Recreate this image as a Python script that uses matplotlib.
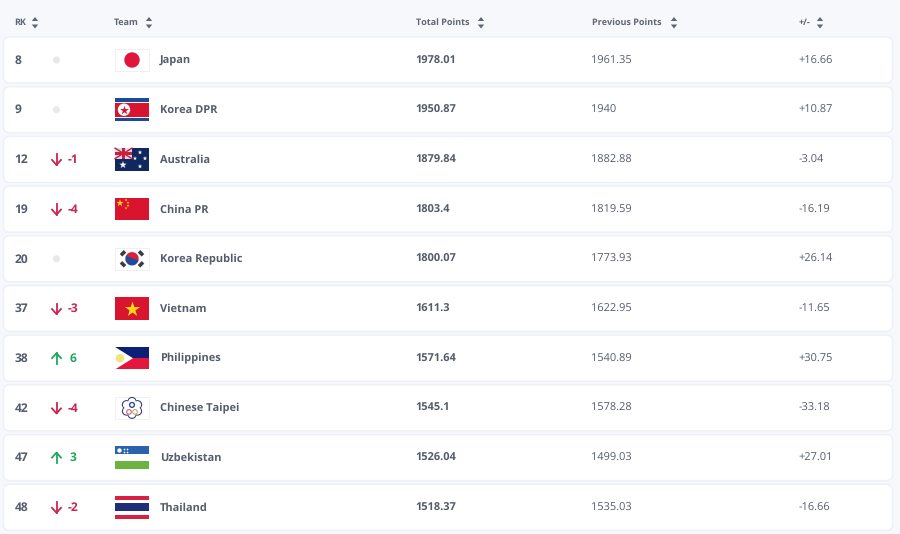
import matplotlib
matplotlib.use('Agg')
import matplotlib.pyplot as plt
import numpy as np
from matplotlib.patches import Rectangle, FancyBboxPatch, Circle, Polygon, Wedge

#Table data
ranks = [8, 9, 12, 19, 20, 37, 38, 42, 47, 48]
moves = [0, 0, -1, -4, 0, -3, 6, -4, 3, -2]
teams = ['Japan', 'Korea DPR', 'Australia', 'China PR', 'Korea Republic',
         'Vietnam', 'Philippines', 'Chinese Taipei', 'Uzbekistan', 'Thailand']
total_points = ['1978.01', '1950.87', '1879.84', '1803.4', '1800.07',
                '1611.3', '1571.64', '1545.1', '1526.04', '1518.37']
previous_points = ['1961.35', '1940', '1882.88', '1819.59', '1773.93',
                   '1622.95', '1540.89', '1578.28', '1499.03', '1535.03']
changes = ['+16.66', '+10.87', '-3.04', '-16.19', '+26.14',
           '-11.65', '+30.75', '-33.18', '+27.01', '-16.66']
headers = ['RK', 'Team', 'Total Points', 'Previous Points', '+/-']

#Colors
BG = '#f6f8fc'
TEXT = '#555c6c'
HEAD = '#5f6675'
RED = '#c9264f'
GREEN = '#1fa75d'
FLAG_RED = '#d8142e'
NAVY = '#10285f'

plt.rcParams['font.family'] = ['Open Sans', 'DejaVu Sans']
#Hinting squeezes the small bold text, the screenshot is unhinted
plt.rcParams['text.hinting'] = 'none'
plt.rcParams['text.hinting_factor'] = 1

fig = plt.figure(figsize=(9, 5.34), dpi=100, facecolor=BG)
ax = fig.add_axes([0, 0, 1, 1])
ax.set_xlim(0, 900)
ax.set_ylim(534, 0)
ax.axis('off')

#Flag box in pixels
FX, FW, FH = 115, 34, 22.5


def rect(x, y, w, h, color, z=3):
    ax.add_patch(Rectangle((x, y), w, h, facecolor=color, edgecolor='none', zorder=z))


def stripes(y, colors, shares):
    top = y - FH / 2
    for c, s in zip(colors, shares):
        rect(FX, top, FW, FH * s, c)
        top += FH * s


def blank_flag(y):
    ax.add_patch(Rectangle((FX, y - FH / 2), FW, FH, facecolor='white', edgecolor='#eceef2', lw=0.6, zorder=3))


def draw_flag(team, y):
    cx = FX + FW / 2
    if team == 'Japan':
        blank_flag(y)
        ax.add_patch(Circle((cx, y), 7, color='#e0143c', zorder=4))
    elif team == 'Korea DPR':
        stripes(y, ['#1c4a94', 'white', FLAG_RED, 'white', '#1c4a94'], [0.15, 0.03, 0.64, 0.03, 0.15])
        ax.add_patch(Circle((FX + 9, y), 5.5, color='white', zorder=4))
        ax.scatter([FX + 9], [y], marker='*', s=45, color=FLAG_RED, linewidths=0, zorder=5)
    elif team == 'Australia':
        rect(FX, y - FH / 2, FW, FH, NAVY)
        uy = y - FH / 2
        rect(FX, uy, 17, 10.5, '#d9dbe6', z=4)
        ax.plot([FX, FX + 17], [uy, uy + 10.5], color='#c8203f', lw=1, zorder=5)
        ax.plot([FX, FX + 17], [uy + 10.5, uy], color='#c8203f', lw=1, zorder=5)
        rect(FX + 7, uy, 3, 10.5, '#c8203f', z=6)
        rect(FX, uy + 4, 17, 2.5, '#c8203f', z=6)
        ax.scatter([FX + 8, FX + 20, FX + 25, FX + 30, FX + 25], [y + 5.5, y - 1, y - 7, y - 1, y + 7],
                   marker='*', s=[32, 10, 12, 12, 12], color='white', linewidths=0, zorder=5)
    elif team == 'China PR':
        rect(FX, y - FH / 2, FW, FH, FLAG_RED)
        ax.scatter([FX + 5, FX + 11, FX + 13, FX + 13, FX + 11], [y - 6, y - 9, y - 6.5, y - 3.5, y - 1],
                   marker='*', s=[30, 5, 5, 5, 5], color='#ffd21f', linewidths=0, zorder=5)
    elif team == 'Korea Republic':
        blank_flag(y)
        ax.add_patch(Wedge((cx, y), 6, 200, 20, color='#d8223c', zorder=4))
        ax.add_patch(Wedge((cx, y), 6, 20, 200, color='#1f4c9c', zorder=4))
        for dx, dy in [(-9, -5.5), (9, -5.5), (-9, 5.5), (9, 5.5)]:
            s = 1 if dx * dy < 0 else -1
            ax.plot([cx + dx - 2, cx + dx + 2], [y + dy - 2 * s, y + dy + 2 * s],
                    color='#3a3d45', lw=2.6, solid_capstyle='butt', zorder=4)
    elif team == 'Vietnam':
        rect(FX, y - FH / 2, FW, FH, FLAG_RED)
        ax.scatter([cx], [y], marker='*', s=130, color='#ffd91a', linewidths=0, zorder=5)
    elif team == 'Philippines':
        rect(FX, y - FH / 2, FW, FH / 2, '#0e1f78')
        rect(FX, y, FW, FH / 2, '#e3173e')
        ax.add_patch(Polygon([(FX, y - FH / 2), (FX + 18, y), (FX, y + FH / 2)], facecolor='white', edgecolor='none', zorder=4))
        ax.add_patch(Circle((FX + 5, y), 3.5, color='#f6e27a', zorder=5))
    elif team == 'Chinese Taipei':
        blank_flag(y)
        #six petals of the emblem
        for a in np.deg2rad(np.arange(0, 360, 60) + 30):
            ax.add_patch(Circle((cx + 6.5 * np.cos(a), y + 6.5 * np.sin(a)), 4.5, facecolor='#33386f', edgecolor='none', zorder=4))
        for a in np.deg2rad(np.arange(0, 360, 60) + 30):
            ax.add_patch(Circle((cx + 6.2 * np.cos(a), y + 6.2 * np.sin(a)), 3.7, facecolor='white', edgecolor='none', zorder=5))
        ax.add_patch(Circle((cx, y), 7, facecolor='white', edgecolor='none', zorder=5))
        ax.add_patch(Circle((cx, y - 3), 2.4, facecolor='white', edgecolor='#2f4ea0', lw=1, zorder=6))
        ax.add_patch(Circle((cx - 3, y + 4), 2.3, facecolor='none', edgecolor='#c8506a', lw=0.7, zorder=6))
        ax.add_patch(Circle((cx + 3, y + 4), 2.3, facecolor='none', edgecolor='#b9a640', lw=0.7, zorder=6))
    elif team == 'Uzbekistan':
        stripes(y, ['#2a62ae', 'white', '#6cb33f'], [0.33, 0.34, 0.33])
        ax.scatter([FX + 4], [y - 8], marker='o', s=10, color='white', linewidths=0, zorder=5)
        ax.scatter([FX + 9, FX + 12, FX + 9, FX + 12], [y - 9, y - 9, y - 6, y - 6],
                   marker='o', s=1.5, color='white', linewidths=0, zorder=5)
    elif team == 'Thailand':
        stripes(y, ['#d9213f', 'white', '#1c2f78', 'white', '#d9213f'], [0.16, 0.16, 0.36, 0.16, 0.16])


def sort_icon(x):
    ax.add_patch(Polygon([(x - 3.2, 21), (x + 3.2, 21), (x, 17)], facecolor=HEAD, edgecolor='none'))
    ax.add_patch(Polygon([(x - 3.2, 24.5), (x + 3.2, 24.5), (x, 28.5)], facecolor=HEAD, edgecolor='none'))


#Header row
header_x = [14.5, 114, 415.5, 591.5, 799]
icon_x = [35, 149, 481, 674, 820]
for label, hx, ix in zip(headers, header_x, icon_x):
    ax.text(hx, 22.5, label, fontsize=6.8, fontweight='bold', color=HEAD, va='center', ha='left')
    sort_icon(ix)

#Rows
row_top, row_h, row_step = 37, 46, 49.7
for i, team in enumerate(teams):
    top = row_top + row_step * i
    y = top + row_h / 2
    ax.add_patch(FancyBboxPatch((3.5 + 4, top + 4), 889 - 8, row_h - 8,
                                boxstyle='round,pad=4,rounding_size=6',
                                facecolor='white', edgecolor='#edf0f6', lw=1, zorder=1))
    ax.text(14.5, y + 0.5, str(ranks[i]), fontsize=8.4, fontweight='bold', color=TEXT, va='center', ha='left', zorder=3)
    m = moves[i]
    if m == 0:
        ax.add_patch(Circle((56.5, y), 2.8, color='#e6e8ec', zorder=3))
    else:
        col = GREEN if m > 0 else RED
        tip, tail = (y - 5, y + 5.5) if m > 0 else (y + 5.5, y - 5)
        ax.plot([56.5, 56.5], [tail, tip], color=col, lw=1.3, zorder=3)
        ax.plot([52, 56.5, 61], [y + (0.5 if m < 0 else 0), tip, y + (0.5 if m < 0 else 0)], color=col, lw=1.3, zorder=3)
        ax.text(72.5, y + 0.5, str(m), fontsize=8.4, fontweight='bold', color=col, va='center', ha='center', zorder=3)
    draw_flag(team, y)
    ax.text(160, y + 0.5, team, fontsize=7.9, fontweight='bold', color=TEXT, va='center', ha='left', zorder=3)
    ax.text(415.5, y + 0.5, total_points[i], fontsize=8.0, fontweight='bold', color=TEXT, va='center', ha='left', zorder=3)
    ax.text(591.5, y + 0.5, previous_points[i], fontsize=7.9, color=TEXT, va='center', ha='left', zorder=3)
    ax.text(798.5, y + 0.5, changes[i], fontsize=7.9, color=TEXT, va='center', ha='left', zorder=3)

fig.savefig('out.png', dpi=100, facecolor=BG)
